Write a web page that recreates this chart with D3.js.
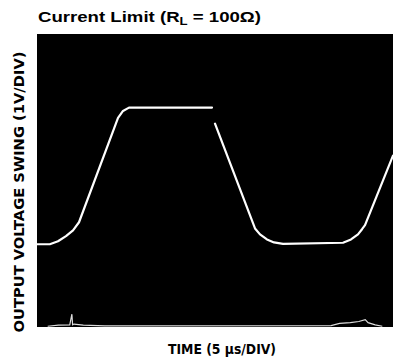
<!DOCTYPE html>
<html>
<head>
<meta charset="utf-8">
<script src="https://cdn.jsdelivr.net/npm/d3@7"></script>
<style>
  html, body { margin: 0; padding: 0; background: #fff; }
  svg { display: block; }
</style>
</head>
<body>
<div id="chart"></div>
<script>
// scope trace, time in us (5us/div), output in V (1V/div)
const traceTime = [0, 1.8, 2.95, 4.07, 5.06, 5.9, 11.38, 12.08, 12.92, 24.58,
  25.0, 30.62, 31.32, 32.3, 33.29, 34.55, 42.98, 44.1, 45.08, 45.65, 46.07, 50];
const traceVolts = [2.26, 2.26, 2.34, 2.48, 2.64, 2.86, 5.71, 5.9, 5.99, 5.99,
  5.55, 2.69, 2.53, 2.39, 2.31, 2.27, 2.3, 2.39, 2.53, 2.67, 2.78, 4.68];
// the trace breaks just before this point (after the top plateau)
const traceBreakBefore = 10;

// low level noise along the bottom edge of the screen
const noiseTime = [1.5, 3.0, 4.6, 4.9, 5.0, 5.2, 6.5, 9.5, 41.3, 42.5, 44.0, 45.2, 46.1, 46.5, 47.5, 48.5];
const noiseVolts = [0.02, 0.05, 0.06, 0.35, 0.06, 0.08, 0.05, 0.03, 0.04, 0.10, 0.12, 0.15, 0.20, 0.12, 0.06, 0.02];

const titleMain = "Current Limit (R";
const titleSub = "L";
const titleEnd = " = 100\u03A9)";
const xTitle = "TIME (5 \u03BCs/DIV)";
const yTitle = "OUTPUT VOLTAGE SWING (1V/DIV)";

const width = 393, height = 358;
const margin = { top: 34, right: 0, bottom: 31, left: 37 };
const innerW = width - margin.left - margin.right;
const innerH = height - margin.top - margin.bottom;

const svg = d3.select("#chart").append("svg")
  .attr("width", width)
  .attr("height", height);

const x = d3.scaleLinear().domain([0, 50]).range([0, innerW]);
const y = d3.scaleLinear().domain([0, 8]).range([innerH, 0]);

const g = svg.append("g")
  .attr("transform", `translate(${margin.left},${margin.top})`);

// scope screen
g.append("rect")
  .attr("width", innerW)
  .attr("height", innerH)
  .attr("fill", "#000");

const noise = noiseTime.map((t, i) => ({ t: t, v: noiseVolts[i] }));
g.append("path")
  .datum(noise)
  .attr("fill", "none")
  .attr("stroke", "#ddd")
  .attr("stroke-width", 1.2)
  .attr("d", d3.line().x(d => x(d.t)).y(d => y(d.v)));

// two pieces, with the break after the plateau
const pieces = [
  traceTime.slice(0, traceBreakBefore).map((t, i) => ({ t: t, v: traceVolts[i] })),
  traceTime.slice(traceBreakBefore).map((t, i) => ({ t: t, v: traceVolts[i + traceBreakBefore] }))
];
const line = d3.line()
  .x(d => x(d.t)).y(d => y(d.v));

g.selectAll(".trace")
  .data(pieces)
  .enter()
  .append("path")
  .attr("class", "trace")
  .attr("fill", "none")
  .attr("stroke", "#fff")
  .attr("stroke-width", 2.2)
  .attr("stroke-linecap", "round")
  .attr("stroke-linejoin", "round")
  .attr("d", line);

// titles
const title = svg.append("text")
  .attr("x", 38)
  .attr("y", 22)
  .attr("font-family", "Liberation Sans, Arial, sans-serif")
  .attr("font-weight", "bold")
  .attr("font-size", 15.5)
  .attr("textLength", 223)
  .attr("lengthAdjust", "spacingAndGlyphs")
  .attr("fill", "#000");
title.append("tspan").text(titleMain);
title.append("tspan").attr("dy", 3).attr("font-size", 11).text(titleSub);
title.append("tspan").attr("dy", -3).text(titleEnd);

svg.append("text")
  .attr("x", 222)
  .attr("y", 354)
  .attr("text-anchor", "middle")
  .attr("font-family", "DejaVu Sans Condensed, DejaVu Sans, sans-serif")
  .attr("font-weight", "bold")
  .attr("font-size", 14)
  .attr("textLength", 108)
  .attr("lengthAdjust", "spacingAndGlyphs")
  .attr("fill", "#000")
  .text(xTitle);

svg.append("text")
  .attr("transform", "translate(24,192) rotate(-90)")
  .attr("text-anchor", "middle")
  .attr("font-family", "DejaVu Sans Condensed, DejaVu Sans, sans-serif")
  .attr("font-weight", "bold")
  .attr("font-size", 13.5)
  .attr("textLength", 281)
  .attr("lengthAdjust", "spacingAndGlyphs")
  .attr("fill", "#000")
  .text(yTitle);
</script>
</body>
</html>
